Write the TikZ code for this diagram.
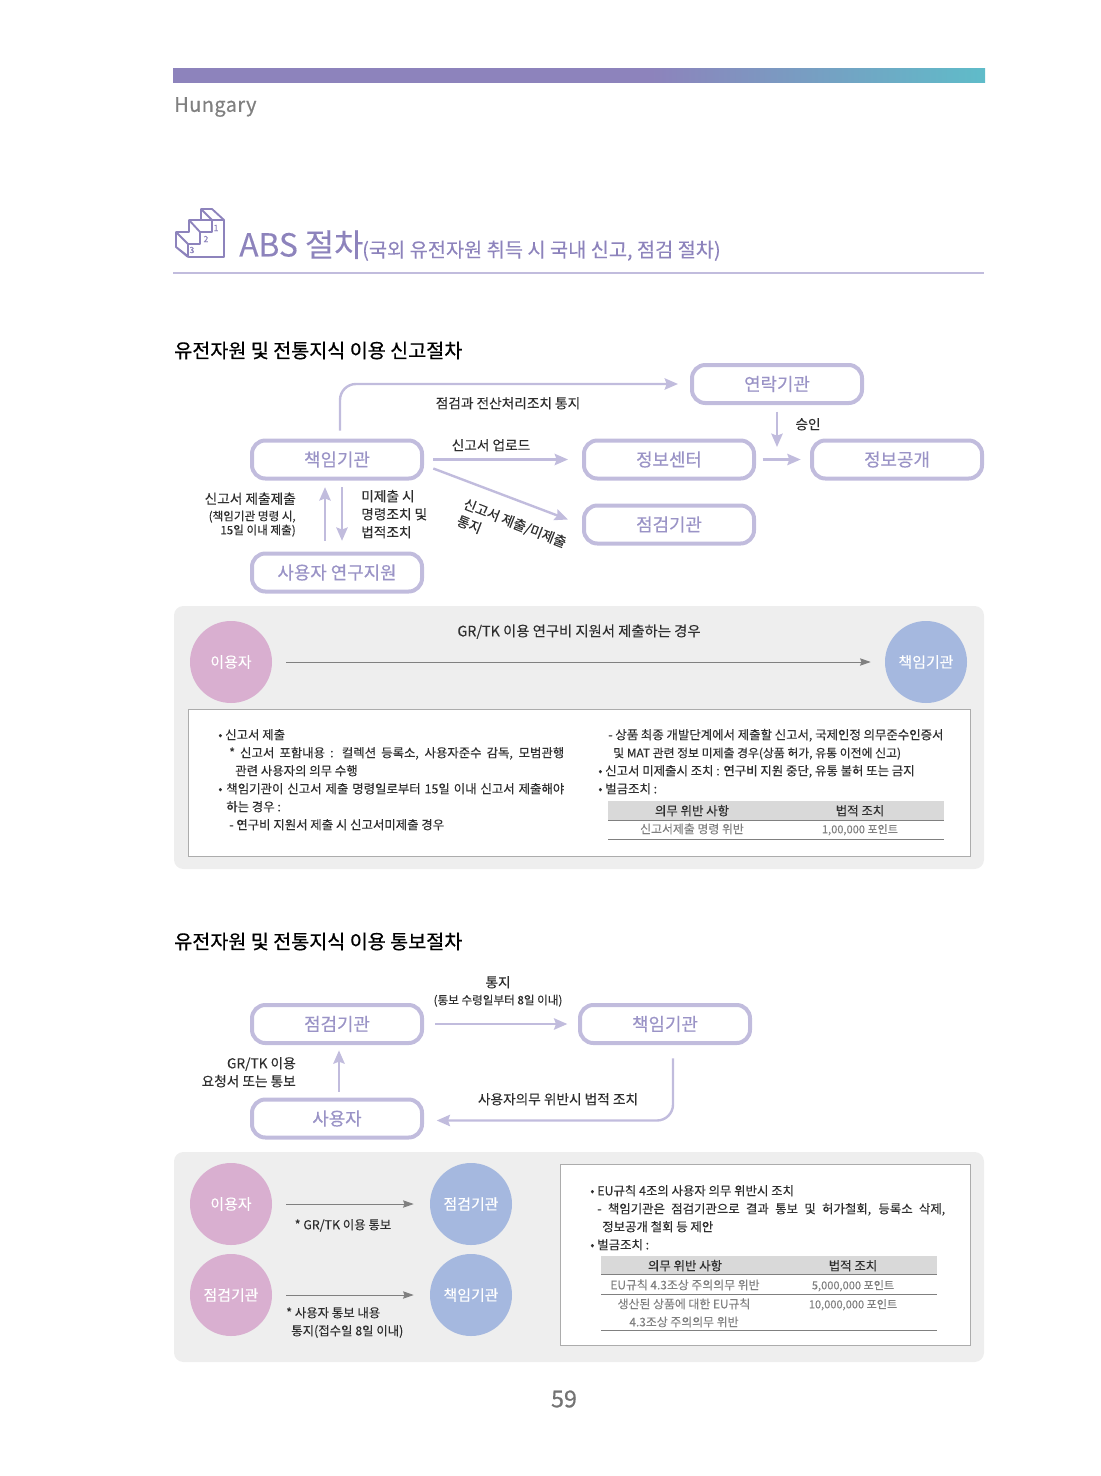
\documentclass[tikz,border=0pt]{standalone}
\usepackage{fontspec}
\setmainfont[FakeBold=0.15]{Noto Sans CJK KR}
\usetikzlibrary{arrows.meta}
\definecolor{hupurple}{HTML}{8D83BC}
\definecolor{hulilac}{HTML}{C1BCDD}
\definecolor{hutext}{HTML}{9A93C6}
\definecolor{huteal}{HTML}{5FBCC9}
\definecolor{hupink}{HTML}{D9AFD0}
\definecolor{hublue}{HTML}{A5B8DF}
\definecolor{hupanel}{HTML}{EEEEEE}
\definecolor{huink}{HTML}{2E2E2E}
\pgfdeclarehorizontalshading{hubar}{100bp}{color(0bp)=(hupurple); color(54.4bp)=(hupurple); color(75bp)=(huteal); color(100bp)=(huteal)}
\newcommand{\fsz}[1]{\fontsize{#1}{#1}\selectfont}
\newcommand{\fsb}[1]{\fontsize{#1}{#1}\selectfont\addfontfeature{FakeBold=0.5}}
\tikzset{pbox/.style={draw=hulilac, line width=3pt, rounded corners=10pt, minimum width=127.5pt, minimum height=28.5pt, inner sep=0pt, text=hutext, font=\fsb{13.4}}}
\tikzset{ccle/.style={circle, minimum size=61.5pt, inner sep=0pt, text=white, font=\fsz{11.2}}}
\tikzset{pedge/.style={line width=1.8pt, color=hulilac, -{Stealth[length=10pt, width=8.5pt, inset=1.5pt]}}}
\tikzset{gedge/.style={line width=0.7pt, color=gray, -{Stealth[length=8pt, width=5.5pt, inset=1pt]}}}
\tikzset{txt/.style={inner sep=0pt, text=huink, text height=9pt, text depth=1pt, font=\fsz{10.25}}}
\tikzset{stxt/.style={txt, font=\fsz{8.7}}}
\tikzset{btxt/.style={txt, font=\fsz{9.3}}}
\tikzset{gtxt/.style={txt, text=gray, font=\fsz{8.9}}}
\tikzset{htxt/.style={txt, anchor=west, text=black, font=\fsb{14.7}}}
\tikzset{hrule/.style={line width=0.7pt, color=gray}}
\tikzset{wbox/.style={fill=white, draw=gray!65, line width=0.6pt}}
\begin{document}
\begin{tikzpicture}[x=0.75pt, y=-0.75pt]%{{{
        \useasboundingbox (0,0) rectangle (1100,1476);

        \shade[shading=hubar] (173,68.5) rectangle (985,83);
        \node[anchor=west, inner sep=0pt, text=gray, font=\fsb{15}] (Th) at (174,107) {\addfontfeature{LetterSpace=2}Hungary};

        % stairs
        \draw[hupurple, line width=1.4pt, line join=round]
            (201,209) -- (212,209) -- (224,220) -- (224,257) -- (189,257) -- (176,247) -- (176,232) -- (189,232)
            -- (189,220) -- (201,220) -- cycle
            (201,220) -- (212,220) -- (224,220)
            (201,209) -- (212,220) -- (212,232) -- (200,232) -- (200,244) -- (188,244) -- (188,257)
            (189,220) -- (200,232)
            (176,232) -- (188,244) (176,247) -- (188,257);
        \node[inner sep=0pt, text=hupurple, font=\fsb{6.5}] (T1) at (216,228) {1};
        \node[inner sep=0pt, text=hupurple, font=\fsb{6.5}] (T2) at (206,239) {2};
        \node[inner sep=0pt, text=hupurple, font=\fsb{6.5}] (T3) at (192,250) {3};

        \node[anchor=base west, inner sep=0pt, text=hupurple, font=\fsz{23.8}] (Tt) at (239,256.5) {ABS 절차};
        \node[anchor=base west, inner sep=0pt, text=hupurple, font=\fsz{14.8}] (Ts) at (362,257) {(국외 유전자원 취득 시 국내 신고, 점검 절차)};
        \draw[hulilac, line width=1.3pt] (173,273) -- (984,273);

        \node[htxt] (Ha) at (174,352.5) {유전자원 및 전통지식 이용 신고절차};

        \node[pbox] (Ca) at (337,459.5) {책임기관};
        \node[pbox] (Cb) at (777,384) {연락기관};
        \node[pbox] (Cc) at (669,459.5) {정보센터};
        \node[pbox] (Cd) at (669,524.5) {점검기관};
        \node[pbox] (Ce) at (897,459.5) {정보공개};
        \node[pbox] (Cf) at (337,572.5) {사용자 연구지원};
        \coordinate (Cj) at (777,447);

        \draw [pedge, rounded corners=12pt] ([xshift=2.25pt, yshift=6pt]Ca.north) |- ([xshift=-9pt]Cb.west);
        \draw [pedge, shorten <=7pt, shorten >=10.5pt] (Ca.east) -- (Cc.west);
        \draw [pedge] ([xshift=7pt, yshift=-6.75pt]Ca.east) -- ([xshift=-10.5pt, yshift=3.75pt]Cd.west);
        \draw [pedge, shorten <=5pt] (Cb.south) -- (Cj);
        \draw [pedge, shorten <=5pt, shorten >=7pt] (Cc.east) -- (Ce.west);
        \draw [pedge, shorten <=8pt, shorten >=5pt] ([xshift=-9pt]Cf.north) -- ([xshift=-9pt]Ca.south);
        \draw [pedge, shorten <=5pt, shorten >=8pt] ([xshift=3.75pt]Ca.south) -- ([xshift=3.75pt]Cf.north);

        \node[txt] (La) at (508,403) {점검과 전산처리조치 통지};
        \node[txt] (Lb) at (491,445) {신고서 업로드};
        \node[txt] (Lc) at (808,424) {승인};
        \node[txt, anchor=east] (Ld) at (296,498.5) {신고서 제출제출};
        \node[stxt, anchor=east] (Le) at (296,515) {(책임기관 명령 시,};
        \node[stxt, anchor=east] (Lf) at (296,529) {15일 이내 제출)};
        \node[txt, anchor=west] (Lg) at (361,496) {미제출 시};
        \node[txt, anchor=west] (Lh) at (361,514) {명령조치 및};
        \node[txt, anchor=west] (Li) at (361,532) {법적조치};
        \node[inner sep=0pt, text=huink, align=left, rotate=-21.5, font=\fontsize{10.25}{13.5}\selectfont] (Lj) at (511.7,531.4) {신고서 제출/미제출\\통지};

        \fill[hupanel, rounded corners=7pt] (174,606) rectangle (984,869);
        \node[ccle, fill=hupink] (Pa) at (231,662) {이용자};
        \node[ccle, fill=hublue] (Pb) at (926,662) {책임기관};
        \draw [gedge, shorten <=10.5pt, shorten >=10.5pt] (Pa) -- (Pb);
        \node[txt, font=\fsz{10.75}] (Pl) at (579,631) {GR/TK 이용 연구비 지원서 제출하는 경우};

        \draw[wbox] (188,709) rectangle (970,856);
        \node[btxt, anchor=west] (Xa) at (218,734) {• 신고서 제출};
        \node[btxt, anchor=west] (Xb) at (229,752) {\makebox[251.25pt][s]{* 신고서 포함내용 : 컬렉션 등록소, 사용자준수 감독, 모범관행}};
        \node[btxt, anchor=west] (Xc) at (235,770) {관련 사용자의 의무 수행};
        \node[btxt, anchor=west] (Xd) at (218,788) {\makebox[259.5pt][s]{• 책임기관이 신고서 제출 명령일로부터 15일 이내 신고서 제출해야}};
        \node[btxt, anchor=west] (Xe) at (226,806) {하는 경우 :};
        \node[btxt, anchor=west] (Xf) at (229,824) {- 연구비 지원서 제출 시 신고서미제출 경우};
        \node[btxt, anchor=west] (Ya) at (608,734) {- 상품 최종 개발단계에서 제출할 신고서, 국제인정 의무준수인증서};
        \node[btxt, anchor=west, font=\fsz{8.9}] (Yb) at (613,752) {및 MAT 관련 정보 미제출 경우(상품 허가, 유통 이전에 신고)};
        \node[btxt, anchor=west] (Yc) at (598,770) {• 신고서 미제출시 조치 : 연구비 지원 중단, 유통 불허 또는 금지};
        \node[btxt, anchor=west] (Yd) at (598,788) {• 벌금조치 :};

        \fill[gray!30] (608,801) rectangle (944,820);
        \draw[hrule] (608,820) -- (944,820);
        \draw[hrule] (608,839) -- (944,839);
        \node[btxt] (Za) at (692,810) {의무 위반 사항};
        \node[btxt] (Zb) at (860,810) {법적 조치};
        \node[gtxt] (Zc) at (692,828) {신고서제출 명령 위반};
        \node[gtxt, font=\fsz{8.3}] (Zd) at (860,828) {1,00,000 포인트};

        \node[htxt] (Hb) at (174,943.5) {유전자원 및 전통지식 이용 통보절차};

        \node[pbox] (Na) at (337,1024) {점검기관};
        \node[pbox] (Nb) at (665,1024) {책임기관};
        \node[pbox] (Nc) at (337,1118.5) {사용자};

        \draw [pedge, shorten <=8.5pt, shorten >=8pt] (Na) -- (Nb);
        \draw [pedge, shorten <=4.5pt, shorten >=4pt] ([xshift=1.5pt]Nc.north) -- ([xshift=1.5pt]Na.south);
        \draw [pedge, rounded corners=12pt, shorten <=10pt, shorten >=9.5pt] ([xshift=6pt]Nb.south) |- ([yshift=-1.5pt]Nc.east);

        \node[txt] (Ma) at (498,982) {통지};
        \node[stxt] (Mb) at (498,999) {(통보 수령일부터 8일 이내)};
        \node[txt, anchor=east] (Mc) at (296,1063) {GR/TK 이용};
        \node[txt, anchor=east] (Md) at (296,1081) {요청서 또는 통보};
        \node[txt] (Me) at (558,1099) {사용자의무 위반시 법적 조치};

        \fill[hupanel, rounded corners=7pt] (174,1152) rectangle (984,1362);
        \node[ccle, fill=hupink] (Qa) at (231,1204) {이용자};
        \node[ccle, fill=hublue] (Qb) at (471,1204) {점검기관};
        \node[ccle, fill=hupink] (Qc) at (231,1295) {점검기관};
        \node[ccle, fill=hublue] (Qd) at (471,1295) {책임기관};
        \draw [gedge, shorten <=10.5pt, shorten >=12pt] (Qa) -- (Qb);
        \draw [gedge, shorten <=10.5pt, shorten >=12pt] (Qc) -- (Qd);
        \node[btxt] (Ra) at (343,1224) {* GR/TK 이용 통보};
        \node[btxt, anchor=west] (Rb) at (286,1312) {* 사용자 통보 내용};
        \node[btxt, anchor=west] (Rc) at (291,1330) {통지(접수일 8일 이내)};

        \draw[wbox] (560,1164) rectangle (970,1345);
        \node[btxt, anchor=west] (Va) at (590,1190) {• EU규칙 4조의 사용자 의무 위반시 조치};
        \node[btxt, anchor=west] (Vb) at (597,1208) {\makebox[261pt][s]{- 책임기관은 점검기관으로 결과 통보 및 허가철회, 등록소 삭제,}};
        \node[btxt, anchor=west] (Vc) at (602,1226) {정보공개 철회 등 제안};
        \node[btxt, anchor=west] (Vd) at (590,1244) {• 벌금조치 :};

        \fill[gray!30] (601,1256) rectangle (937,1274);
        \draw[hrule] (601,1274) -- (937,1274);
        \draw[hrule] (601,1294) -- (937,1294);
        \draw[hrule] (601,1330) -- (937,1330);
        \node[btxt] (Wa) at (685,1265) {의무 위반 사항};
        \node[btxt] (Wb) at (853,1265) {법적 조치};
        \node[gtxt] (Wc) at (685,1284) {EU규칙 4.3조상 주의의무 위반};
        \node[gtxt, font=\fsz{8.3}] (Wd) at (853,1284) {5,000,000 포인트};
        \node[gtxt] (We) at (684,1303) {생산된 상품에 대한 EU규칙};
        \node[gtxt, font=\fsz{8.3}] (Wf) at (853,1303) {10,000,000 포인트};
        \node[gtxt] (Wg) at (684,1321) {4.3조상 주의의무 위반};

        \node[inner sep=0pt, text=gray!90!black, font=\fsb{17.5}] (Pg) at (564,1399) {59};
    \end{tikzpicture}
\end{document}
